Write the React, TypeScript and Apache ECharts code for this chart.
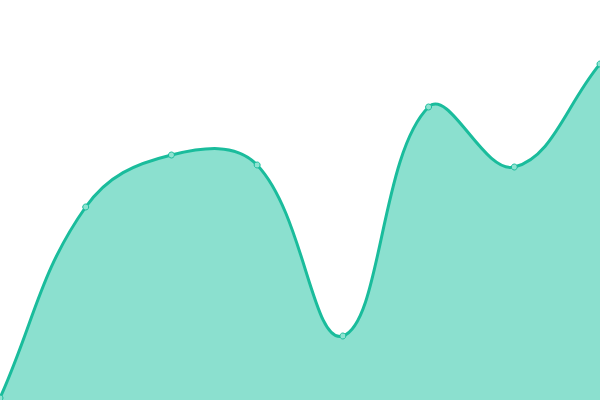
import { useRef, useEffect } from 'react'
import * as echarts from 'echarts'

const categories = ['A', 'B', 'C', 'D', 'E', 'F', 'G', 'H']
const values = [2, 193, 245, 235, 64, 293, 233, 336]

const LINE = '#1abc9c'
const AREA = '#8be0cf'
const TENSION = 0.4

// cardinal-style smoothing (control points may overshoot, unlike the line series)
function controlPoints(pts: number[][], t: number) {
  const cps: number[][] = []
  for (let i = 0; i < pts.length; i++) {
    const p = pts[i]
    const prev = pts[Math.max(i - 1, 0)]
    const next = pts[Math.min(i + 1, pts.length - 1)]
    const vx = (next[0] - prev[0]) * t
    const vy = (next[1] - prev[1]) * t
    let d0 = Math.hypot(p[0] - prev[0], p[1] - prev[1])
    let d1 = Math.hypot(p[0] - next[0], p[1] - next[1])
    const sum = d0 + d1
    if (sum) {
      d0 /= sum
      d1 /= sum
    }
    cps.push([p[0] - vx * d0, p[1] - vy * d0])
    cps.push([p[0] + vx * d1, p[1] + vy * d1])
  }
  return cps
}

echarts.graphic.registerShape(
  'smoothCurve',
  echarts.graphic.extendShape({
    shape: { points: [] as number[][], smooth: TENSION, baseY: null as number | null },
    buildPath(ctx: any, shape: any) {
      const pts: number[][] = shape.points
      if (!pts.length) return
      const cps = controlPoints(pts, shape.smooth)
      ctx.moveTo(pts[0][0], pts[0][1])
      for (let i = 0; i < pts.length - 1; i++) {
        const a = cps[i * 2 + 1]
        const b = cps[(i + 1) * 2]
        const p = pts[i + 1]
        ctx.bezierCurveTo(a[0], a[1], b[0], b[1], p[0], p[1])
      }
      if (shape.baseY != null) {
        ctx.lineTo(pts[pts.length - 1][0], shape.baseY)
        ctx.lineTo(pts[0][0], shape.baseY)
        ctx.closePath()
      }
    },
  }) as any
)

export default function App() {
  const chartRef = useRef<HTMLDivElement>(null)

  useEffect(() => {
    if (!chartRef.current) return
    const instance = echarts.init(chartRef.current, undefined, { renderer: 'svg' })
    instance.setOption({
      animation: false,
      grid: { left: 0, right: 0, top: 0, bottom: 0 },
      xAxis: {
        type: 'category',
        data: categories,
        boundaryGap: false,
        show: false,
      },
      yAxis: {
        type: 'value',
        min: 0,
        max: 400,
        show: false,
      },
      series: [
        {
          type: 'custom',
          data: [[0, 0]],
          silent: true,
          renderItem: (_params: any, api: any) => {
            const pts = values.map((v, i) => api.coord([i, v]))
            const baseY = api.coord([0, 0])[1]
            return {
              type: 'group',
              children: [
                {
                  type: 'smoothCurve',
                  shape: { points: pts, smooth: TENSION, baseY },
                  style: { fill: AREA, stroke: 'none' },
                },
                {
                  type: 'smoothCurve',
                  shape: { points: pts, smooth: TENSION, baseY: null },
                  style: { fill: 'none', stroke: LINE, lineWidth: 3 },
                },
              ],
            }
          },
        },
        {
          type: 'scatter',
          data: values,
          symbol: 'circle',
          symbolSize: 6,
          itemStyle: { color: '#8ee3d1', borderColor: LINE, borderWidth: 1, opacity: 1 },
        },
      ],
    })
    return () => {
      instance.dispose()
    }
  }, [])

  return (
    <div
      ref={chartRef}
      style={{ position: 'fixed', left: 0, top: 0, width: 600, height: 400 }}
    />
  )
}
